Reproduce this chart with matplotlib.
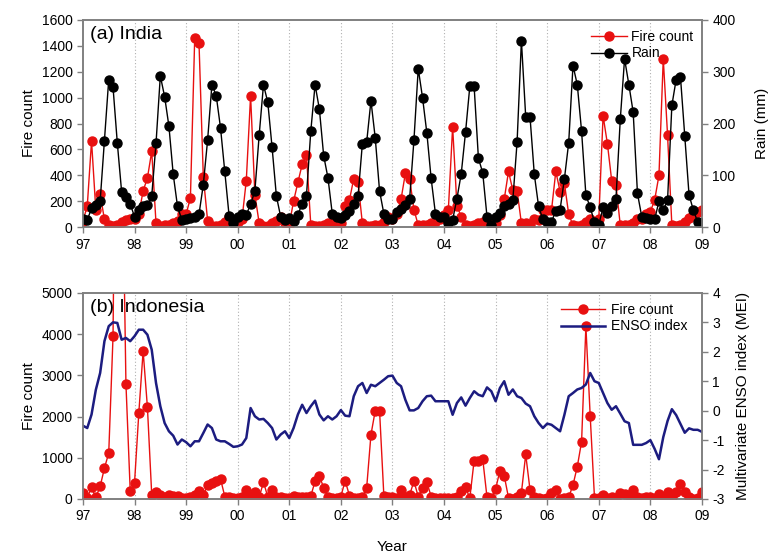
import numpy as np
import matplotlib.pyplot as plt
from matplotlib.ticker import FuncFormatter, MultipleLocator

plt.rcParams['font.family'] = ['Liberation Sans', 'DejaVu Sans']
plt.rcParams['axes.unicode_minus'] = False

# monthly values, Jan 1997 .. Jan 2009
india_fire = [50, 160, 665, 130, 255, 60, 15, 10, 20, 40, 55, 60,
              60, 100, 280, 380, 585, 30, 10, 15, 20, 30, 50, 100,
              100, 225, 1460, 1420, 390, 50, 10, 10, 20, 40, 80, 40,
              40, 60, 360, 1015, 250, 30, 10, 10, 30, 50, 80, 30,
              20, 200, 345, 485, 555, 20, 10, 10, 20, 30, 30, 20,
              30, 160, 210, 375, 345, 30, 10, 10, 20, 20, 40, 80,
              60, 100, 215, 415, 375, 135, 15, 15, 20, 30, 40, 60,
              90, 130, 775, 165, 80, 20, 10, 20, 35, 40, 60, 40,
              30, 90, 215, 430, 285, 280, 30, 30, 20, 60, 55, 130,
              130, 130, 430, 275, 340, 100, 15, 10, 20, 40, 60, 30,
              60, 860, 645, 360, 325, 15, 15, 20, 35, 60, 60, 100,
              120, 210, 400, 1300, 710, 15, 10, 20, 40, 70, 90, 120,
              130]
india_rain = [16, 14, 36, 42, 50, 166, 285, 270, 162, 68, 58, 45,
              20, 34, 41, 42, 60, 162, 292, 252, 195, 102, 40, 14,
              15, 18, 20, 25, 82, 168, 275, 254, 192, 108, 22, 8,
              20, 26, 24, 44, 70, 178, 275, 241, 154, 60, 20, 14,
              18, 12, 24, 45, 61, 185, 275, 228, 138, 95, 26, 20,
              18, 24, 32, 45, 60, 161, 164, 244, 172, 70, 26, 16,
              16, 30, 35, 42, 55, 168, 306, 250, 182, 94, 26, 19,
              19, 8, 14, 55, 103, 183, 272, 272, 133, 105, 20, 5,
              20, 28, 40, 45, 52, 165, 360, 213, 213, 102, 40, 15,
              10, 10, 32, 34, 93, 163, 312, 275, 185, 62, 38, 10,
              5, 38, 28, 40, 55, 208, 325, 275, 222, 65, 20, 18,
              15, 15, 50, 33, 52, 235, 285, 290, 175, 62, 33, 10,
              8]
indo_fire = [145, 25, 280, 40, 305, 750, 1115, 3950, 15000, 9500, 2800, 190,
             390, 2090, 3590, 2225, 105, 170, 90, 40, 105, 65, 70, 20,
             20, 40, 100, 200, 100, 330, 390, 445, 490, 60, 40, 30,
             20, 60, 225, 40, 170, 40, 410, 50, 225, 60, 40, 20,
             20, 80, 40, 40, 60, 70, 430, 565, 270, 50, 20, 30,
             60, 445, 80, 20, 20, 40, 270, 1560, 2145, 2145, 80, 40,
             40, 20, 225, 40, 100, 430, 60, 270, 410, 60, 20, 20,
             20, 30, 20, 40, 185, 280, 25, 930, 930, 970, 40, 20,
             240, 690, 565, 30, 10, 40, 150, 1080, 225, 40, 20, 10,
             30, 145, 225, 10, 20, 40, 340, 785, 1390, 4190, 2020, 30,
             30, 100, 30, 40, 30, 140, 110, 100, 220, 40, 20, 60,
             40, 30, 130, 20, 180, 50, 180, 360, 180, 40, 10, 20,
             180]
enso = [-0.51, -0.59, -0.13, 0.71, 1.28, 2.36, 2.87, 3.0, 2.98, 2.41, 2.47, 2.36,
        2.53, 2.75, 2.75, 2.58, 2.07, 0.94, 0.15, -0.42, -0.70, -0.85, -1.15, -0.98,
        -1.07, -1.21, -1.04, -1.04, -0.76, -0.47, -0.59, -0.98, -1.04, -1.04, -1.13, -1.23,
        -1.21, -1.15, -0.93, 0.09, -0.19, -0.30, -0.28, -0.42, -0.59, -0.98, -0.81, -0.70,
        -0.93, -0.59, -0.13, 0.20, -0.08, 0.15, 0.34, -0.13, -0.33, -0.19, -0.30, -0.19,
        0.02, -0.17, -0.19, 0.49, 0.83, 0.94, 0.60, 0.88, 0.83, 0.94, 1.05, 1.17,
        1.19, 0.94, 0.83, 0.37, 0.01, 0.01, 0.09, 0.32, 0.49, 0.51, 0.32, 0.32,
        0.32, 0.32, -0.14, 0.26, 0.45, 0.17, 0.43, 0.66, 0.54, 0.49, 0.79, 0.66,
        0.32, 0.77, 1.00, 0.54, 0.72, 0.49, 0.43, 0.24, 0.15, -0.19, -0.42, -0.59,
        -0.44, -0.48, -0.59, -0.70, -0.14, 0.49, 0.60, 0.72, 0.77, 0.89, 1.28, 1.00,
        0.94, 0.60, 0.26, 0.03, 0.15, -0.10, -0.36, -0.42, -1.16, -1.16, -1.16, -1.10,
        -1.00, -1.30, -1.65, -0.90, -0.35, 0.05, -0.15, -0.45, -0.75, -0.60, -0.65, -0.65,
        -0.72]
t = 1997 + np.arange(len(india_fire)) / 12.0

RED = '#e81010'
NAVY = '#1c1c80'
FRAME = '#808080'

fig = plt.figure(figsize=(7.68, 5.54), dpi=100)
axA = fig.add_axes([0.108, 0.590, 0.806, 0.374])
axB = fig.add_axes([0.108, 0.0993, 0.806, 0.372])

yearfmt = FuncFormatter(lambda v, p: '%02d' % (int(round(v)) % 100))


def style(ax, twin):
    ax.set_xlim(1997, 2009)
    ax.xaxis.set_major_locator(MultipleLocator(1))
    ax.xaxis.set_major_formatter(yearfmt)
    for yr in range(1998, 2009):
        ax.axvline(yr, color='#b0b0b0', lw=0.8, ls=(0, (1, 2)), zorder=0)
    for a in (ax, twin):
        for s in a.spines.values():
            s.set_color(FRAME)
            s.set_linewidth(1.2)
        a.tick_params(direction='out', length=4, color=FRAME, labelsize=10, width=1)


# (a) India
axA.plot(t, india_fire, '-o', color=RED, lw=1, ms=6.5, label='Fire count', zorder=3)
axA.set_ylim(0, 1600)
axA.yaxis.set_major_locator(MultipleLocator(200))
axA.set_ylabel('Fire count', fontsize=11)
axA2 = axA.twinx()
axA2.plot(t, india_rain, '-o', color='black', mfc='black', lw=1, ms=6.5, label='Rain')
axA2.set_ylim(0, 400)
axA2.yaxis.set_major_locator(MultipleLocator(100))
axA2.set_ylabel('Rain (mm)', fontsize=11, labelpad=14)
style(axA, axA2)
axA.text(0.012, 0.97, '(a) India', transform=axA.transAxes, fontsize=14, va='top', ha='left')
h1, l1 = axA.get_legend_handles_labels()
h2, l2 = axA2.get_legend_handles_labels()
axA2.legend(h1 + h2, l1 + l2, loc='upper right', bbox_to_anchor=(1.0, 0.99), frameon=False,
            fontsize=10, handlelength=2.6, borderaxespad=0.2, labelspacing=0.15,
            handletextpad=0.3, numpoints=1)

# (b) Indonesia
axB.plot(t, indo_fire, '-o', color=RED, lw=1, ms=6.5, label='Fire count', zorder=3)
axB.set_ylim(0, 5000)
axB.yaxis.set_major_locator(MultipleLocator(1000))
axB.set_ylabel('Fire count', fontsize=11)
axB.set_xlabel('Year', fontsize=11, labelpad=12)
axB2 = axB.twinx()
axB2.plot(t, enso, '-', color=NAVY, lw=1.8, label='ENSO index')
axB2.set_ylim(-3, 4)
axB2.yaxis.set_major_locator(MultipleLocator(1))
axB2.set_ylabel('Multivariate ENSO index (MEI)', fontsize=11, labelpad=8)
style(axB, axB2)
axB.text(0.012, 0.97, '(b) Indonesia', transform=axB.transAxes, fontsize=14, va='top', ha='left')
h1, l1 = axB.get_legend_handles_labels()
h2, l2 = axB2.get_legend_handles_labels()
axB2.legend(h1 + h2, l1 + l2, loc='upper right', bbox_to_anchor=(0.99, 0.99), frameon=False,
            fontsize=10, handlelength=3.2, borderaxespad=0.2, labelspacing=0.15,
            handletextpad=0.4, numpoints=1)

fig.savefig('out.png', dpi=100)
